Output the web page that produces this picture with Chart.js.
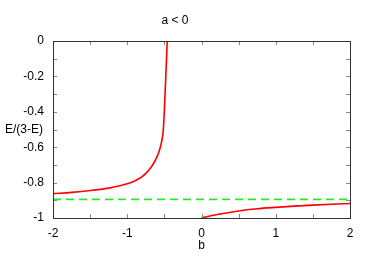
<!DOCTYPE html>
<html>
<head>
<meta charset="utf-8">
<script src="https://cdn.jsdelivr.net/npm/chart.js@4.4.0/dist/chart.umd.min.js"></script>
<style>
    html, body { margin: 0; padding: 0; background: #fff; }
    #contenitore { width: 374px; height: 262px; }
</style>
</head>
<body>
<div id="contenitore"><canvas id="grafico"></canvas></div>
<script>
var titolo = 'a < 0';
var etichettaX = 'b';
var etichettaY = 'E/(3-E)';

// ramo sinistro della curva rossa
var bSinistra = [-2, -1.75, -1.5, -1.25, -1.1, -1.0, -0.9, -0.85, -0.8, -0.75, -0.7, -0.65, -0.6, -0.575, -0.55, -0.53, -0.515, -0.5, -0.49, -0.48, -0.47, -0.461];
var eSinistra = [-0.862, -0.855, -0.845, -0.831, -0.818, -0.807, -0.791, -0.78, -0.766, -0.748, -0.725, -0.695, -0.655, -0.628, -0.593, -0.553, -0.505, -0.39, -0.29, -0.19, -0.09, 0];

// ramo destro della curva rossa
var bDestra = [0, 0.1, 0.25, 0.5, 0.75, 1.0, 1.25, 1.5, 1.75, 2.0];
var eDestra = [-1.0, -0.99, -0.978, -0.96, -0.948, -0.94, -0.933, -0.927, -0.922, -0.918];

// linea tratteggiata verde
var bVerde = [-2, 2];
var eVerde = [-0.895, -0.895];

function punti(xs, ys) {
    var out = [];
    for (var i = 0; i < xs.length; i++) {
        out.push({ x: xs[i], y: ys[i] });
    }
    return out;
}

Chart.defaults.font.family = '"Liberation Sans", Arial, sans-serif';
Chart.defaults.font.size = 12;
Chart.defaults.color = '#000';

// cornice, tacche interne e etichetta y orizzontale
var cornice = {
    id: 'cornice',
    afterDatasetsDraw: function (chart) {
        var ctx = chart.ctx;
        var a = chart.chartArea;
        var sx = chart.scales.x;
        var sy = chart.scales.y;
        ctx.save();
        ctx.strokeStyle = '#888';
        ctx.lineWidth = 1;
        ctx.beginPath();
        sx.ticks.forEach(function (t) {
            var px = Math.round(sx.getPixelForValue(t.value)) + 0.5;
            ctx.moveTo(px, a.bottom);
            ctx.lineTo(px, a.bottom - 4);
            ctx.moveTo(px, a.top);
            ctx.lineTo(px, a.top + 4);
        });
        sy.ticks.forEach(function (t) {
            var py = Math.round(sy.getPixelForValue(t.value)) + 0.5;
            ctx.moveTo(a.left, py);
            ctx.lineTo(a.left + 4, py);
            ctx.moveTo(a.right, py);
            ctx.lineTo(a.right - 4, py);
        });
        ctx.stroke();
        ctx.strokeStyle = '#333';
        ctx.strokeRect(Math.round(a.left) + 0.5, Math.round(a.top) + 0.5,
            Math.round(a.right - a.left), Math.round(a.bottom - a.top));
        ctx.fillStyle = '#000';
        ctx.font = '12px "Liberation Sans", Arial, sans-serif';
        ctx.textBaseline = 'middle';
        ctx.textAlign = 'left';
        ctx.fillText(etichettaY, 5, 130);
        ctx.restore();
    }
};

var ctx = document.getElementById('grafico');
var chart = new Chart(ctx, {
    type: 'line',
    data: {
        datasets: [{
            data: punti(bSinistra, eSinistra),
            borderColor: '#ff0000',
            borderWidth: 1.6,
            pointRadius: 0,
            cubicInterpolationMode: 'monotone'
        }, {
            data: punti(bDestra, eDestra),
            borderColor: '#ff0000',
            borderWidth: 1.6,
            pointRadius: 0,
            cubicInterpolationMode: 'monotone'
        }, {
            data: punti(bVerde, eVerde),
            borderColor: '#22ee22',
            borderWidth: 1.6,
            borderDash: [8, 5],
            pointRadius: 0
        }]
    },
    options: {
        responsive: true,
        maintainAspectRatio: false,
        animation: false,
        layout: { padding: { left: 0, right: 24, top: 0, bottom: 0 } },
        plugins: {
            legend: { display: false },
            tooltip: { enabled: false },
            title: {
                display: true,
                text: titolo,
                font: { size: 12, weight: 'normal' },
                color: '#000',
                padding: { top: 13, bottom: 13.6 }
            }
        },
        scales: {
            x: {
                type: 'linear',
                min: -2,
                max: 2,
                grid: { display: false, drawTicks: false },
                border: { display: false },
                ticks: {
                    stepSize: 0.5,
                    autoSkip: false,
                    maxRotation: 0,
                    padding: 8,
                    callback: function (v) {
                        return Math.abs(v - Math.round(v)) < 1e-6 ? String(Math.round(v)) : '';
                    }
                },
                title: {
                    display: true,
                    text: etichettaX,
                    font: { size: 12 },
                    padding: { top: 0, bottom: 9 }
                },
                afterFit: function (scale) { scale.height = 44; }
            },
            y: {
                min: -1,
                max: 0,
                grid: { display: false, drawTicks: false },
                border: { display: false },
                ticks: {
                    stepSize: 0.1,
                    autoSkip: false,
                    padding: 9,
                    callback: function (v) {
                        var d = Math.round(v * 10);
                        if (d % 2 !== 0) return '';
                        if (d === 0) return '0';
                        if (d === -10) return '-1';
                        return (d / 10).toFixed(1);
                    }
                },
                afterFit: function (scale) { scale.width = 53; }
            }
        }
    },
    plugins: [cornice]
});
</script>
</body>
</html>
